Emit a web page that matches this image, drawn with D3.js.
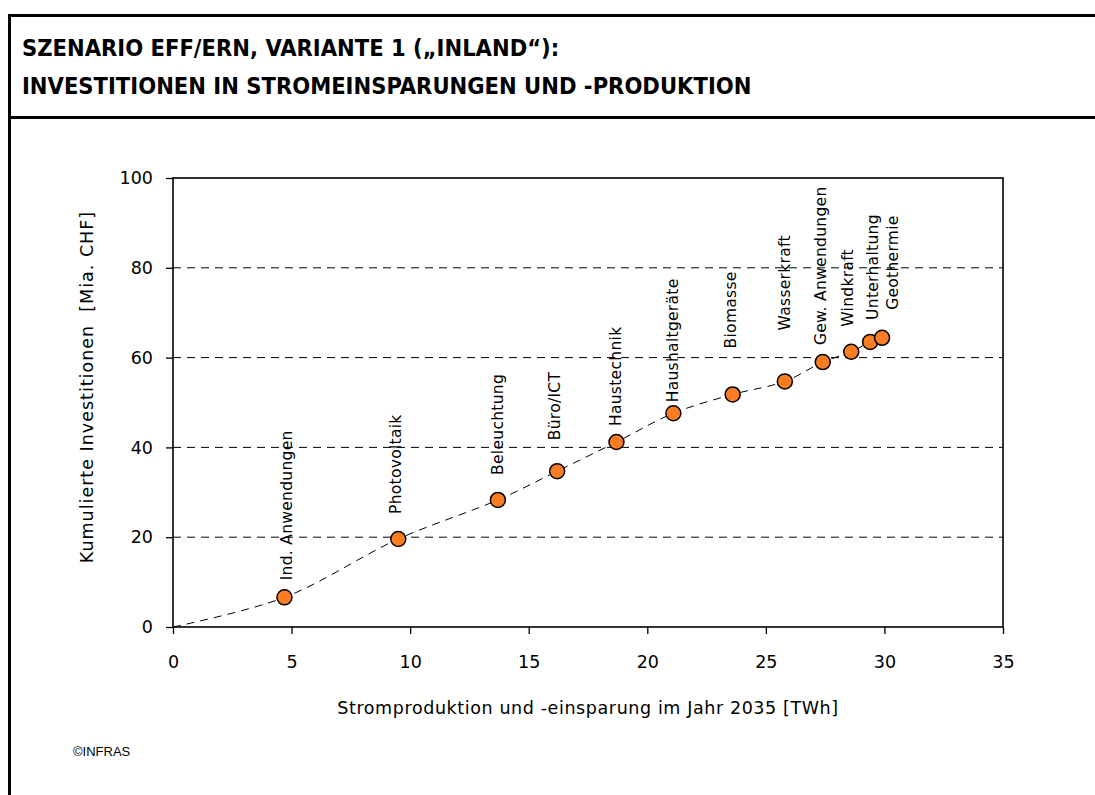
<!DOCTYPE html>
<html>
<head>
<meta charset="utf-8">
<script src="https://cdn.jsdelivr.net/npm/d3@7"></script>
<style>
  body { margin: 0; background: #fff; }
  text { font-family: "DejaVu Sans", sans-serif; fill: #000; }
</style>
</head>
<body>
<div id="chart"></div>
<script>
// data
var categories = ["Ind. Anwendungen", "Photovoltaik", "Beleuchtung", "Büro/ICT", "Haustechnik",
  "Haushaltgeräte", "Biomasse", "Wasserkraft", "Gew. Anwendungen", "Windkraft", "Unterhaltung", "Geothermie"];
var strom = [4.7, 9.5, 13.7, 16.2, 18.7, 21.1, 23.6, 25.8, 27.4, 28.6, 29.4, 29.9];
var invest = [6.6, 19.6, 28.3, 34.7, 41.2, 47.6, 51.8, 54.7, 59.0, 61.3, 63.5, 64.4];
var xTicks = [0, 5, 10, 15, 20, 25, 30, 35];
var yTicks = [0, 20, 40, 60, 80, 100];

// label placement (gap above marker, sideways shift) - layout only
var labelGap = [17, 25, 25, 31, 16, 11, 46, 51, 17, 25, 22, 28];
var labelShift = [2, -3, 0, -3, -1, -1, -2, 0, -2, -4, 2, 10];

var W = 1095, H = 795;
var svg = d3.select("#chart").append("svg")
  .attr("width", W)
  .attr("height", H);

// frame + title band
svg.append("line").attr("x1", 8).attr("x2", W).attr("y1", 15.5).attr("y2", 15.5)
  .attr("stroke", "#000").attr("stroke-width", 3);
svg.append("line").attr("x1", 8).attr("x2", W).attr("y1", 117.5).attr("y2", 117.5)
  .attr("stroke", "#000").attr("stroke-width", 3);
svg.append("line").attr("x1", 9.5).attr("x2", 9.5).attr("y1", 14).attr("y2", H)
  .attr("stroke", "#000").attr("stroke-width", 3);

var titleStyle = function(t) {
  t.attr("x", 22)
   .style("font-family", "'DejaVu Sans Condensed', 'DejaVu Sans', sans-serif")
   .style("font-stretch", "condensed")
   .style("font-weight", "bold")
   .style("font-size", "23.5px");
};
svg.append("text").call(titleStyle).attr("y", 56).text("SZENARIO EFF/ERN, VARIANTE 1 (\u201EINLAND\u201C):");
svg.append("text").call(titleStyle).attr("y", 94).text("INVESTITIONEN IN STROMEINSPARUNGEN UND -PRODUKTION");

var margin = {left: 173, right: 1003, top: 178, bottom: 627};
var x = d3.scaleLinear().domain([0, 35]).range([margin.left, margin.right]);
var y = d3.scaleLinear().domain([0, 100]).range([margin.bottom, margin.top]);

var g = svg.append("g");

// grid lines
g.selectAll(".grid")
  .data(yTicks.filter(function(d) { return d > 0 && d < 100; }))
  .enter().append("line")
  .attr("class", "grid")
  .attr("x1", x(0)).attr("x2", x(35))
  .attr("y1", function(d) { return y(d); })
  .attr("y2", function(d) { return y(d); })
  .attr("stroke", "#000")
  .attr("stroke-width", 1)
  .attr("stroke-dasharray", "8,6");

// axes
var xAxis = g.append("g")
  .attr("transform", "translate(0," + y(0) + ")")
  .call(d3.axisBottom(x).tickValues(xTicks).tickSize(7).tickPadding(22));
var yAxis = g.append("g")
  .attr("transform", "translate(" + x(0) + ",0)")
  .call(d3.axisLeft(y).tickValues(yTicks).tickSize(7).tickPadding(13));
[xAxis, yAxis].forEach(function(a) {
  a.select(".domain").remove();
  a.selectAll("line").attr("stroke", "#000").attr("stroke-width", 1.3);
  a.selectAll("text").style("font-size", "17.5px").style("font-family", "'DejaVu Sans', sans-serif");
});

// plot box
g.append("rect")
  .attr("x", x(0)).attr("y", y(100))
  .attr("width", x(35) - x(0)).attr("height", y(0) - y(100))
  .attr("fill", "none")
  .attr("stroke", "#000")
  .attr("stroke-width", 1.6);

// dashed smoothed line from origin
var pts = [[0, 0]].concat(strom.map(function(d, i) { return [d, invest[i]]; }));
var line = d3.line()
  .x(function(d) { return x(d[0]); })
  .y(function(d) { return y(d[1]); })
  .curve(d3.curveCatmullRom.alpha(0.5));
g.append("path")
  .datum(pts)
  .attr("d", line)
  .attr("fill", "none")
  .attr("stroke", "#000")
  .attr("stroke-width", 1)
  .attr("stroke-dasharray", "8,6");

// markers
g.selectAll(".dot")
  .data(strom)
  .enter().append("circle")
  .attr("class", "dot")
  .attr("cx", function(d) { return x(d); })
  .attr("cy", function(d, i) { return y(invest[i]); })
  .attr("r", 7.5)
  .attr("fill", "#FA7D23")
  .attr("stroke", "#000")
  .attr("stroke-width", 1.5);

// point labels, rotated
g.selectAll(".lbl")
  .data(categories)
  .enter().append("text")
  .attr("class", "lbl")
  .attr("transform", function(d, i) {
    var lx = x(strom[i]) + labelShift[i] + 5.5;
    var ly = y(invest[i]) - labelGap[i];
    return "translate(" + lx + "," + ly + ") rotate(-90)";
  })
  .style("font-size", "15.5px")
  .style("letter-spacing", "0.3px")
  .text(function(d) { return d; });

// axis titles
svg.append("text")
  .attr("x", (x(0) + x(35)) / 2)
  .attr("y", 714)
  .attr("text-anchor", "middle")
  .style("font-size", "17.5px")
  .style("letter-spacing", "0.6px")
  .text("Stromproduktion und -einsparung im Jahr 2035 [TWh]");

svg.append("text")
  .attr("transform", "translate(93," + 387 + ") rotate(-90)")
  .attr("text-anchor", "middle")
  .attr("xml:space", "preserve")
  .style("white-space", "pre")
  .style("font-size", "17.5px")
  .style("letter-spacing", "1px")
  .text("Kumulierte Investitionen  [Mia. CHF]");

svg.append("text")
  .attr("x", 73)
  .attr("y", 756)
  .style("font-family", "'Liberation Sans', Arial, sans-serif")
  .style("font-size", "13px")
  .text("\u00A9INFRAS");
</script>
</body>
</html>
